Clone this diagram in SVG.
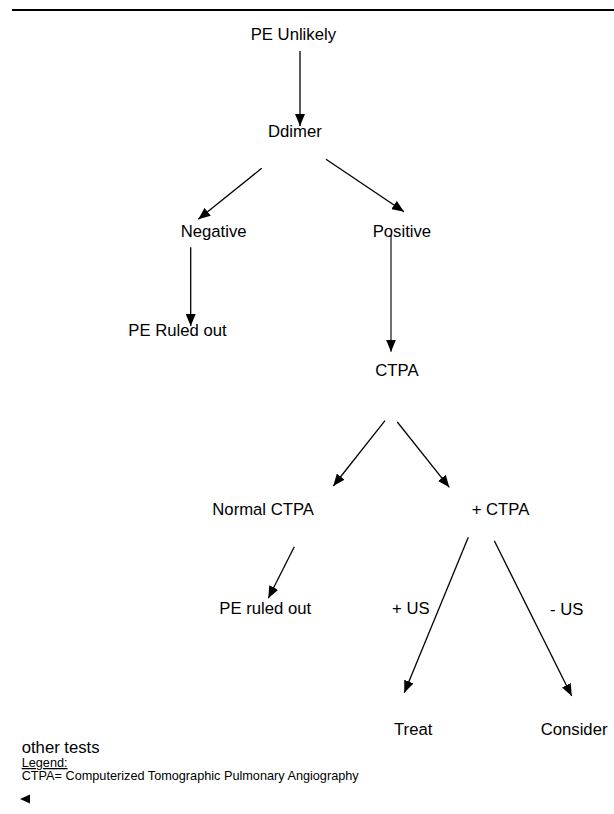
<svg xmlns="http://www.w3.org/2000/svg" width="614" height="814" viewBox="0 0 614 814">
<style>
text{font-family:"Liberation Sans",Arial,sans-serif;font-size:16.7px;fill:#000}
.small{font-size:12.7px}
.c line{stroke:#000;stroke-width:1.3;marker-end:url(#ah)}
.c line.g{stroke:#404040;stroke-width:1.5}
</style>
<defs>
<marker id="ah" viewBox="0 0 12 10" refX="12" refY="5" markerWidth="12" markerHeight="10" markerUnits="userSpaceOnUse" orient="auto">
<path d="M0,0 L12,5 L0,10 z" fill="#000"/>
</marker>
</defs>
<rect width="614" height="814" fill="#fff"/>
<line x1="12" y1="10" x2="614" y2="10" stroke="#000" stroke-width="2"/>
<g class="c" id="connectors">
<line x1="300" y1="51" x2="300" y2="126"/>
<line x1="261.7" y1="168.3" x2="198.3" y2="219.3"/>
<line x1="326" y1="159.3" x2="404" y2="211.7"/>
<line x1="190.7" y1="247.3" x2="190.7" y2="326"/>
<line class="g" x1="391" y1="235" x2="391" y2="351.7"/>
<line x1="385" y1="420.7" x2="333.3" y2="486"/>
<line x1="397.3" y1="422" x2="449.3" y2="487.3"/>
<line x1="294.3" y1="546.7" x2="268.3" y2="598.3"/>
<line x1="468.3" y1="537.3" x2="404.3" y2="692.7"/>
<line x1="494.3" y1="540.7" x2="571.7" y2="696"/>
</g>
<g id="pe-unlikely"><text x="250.7" y="40">PE Unlikely</text></g>
<g id="ddimer"><text x="268" y="137">Ddimer</text></g>
<g id="negative"><text x="180.7" y="236.5">Negative</text></g>
<g id="positive"><text x="372.7" y="236.5">Positive</text></g>
<g id="pe-ruled-out-1"><text x="128.3" y="336">PE Ruled out</text></g>
<g id="ctpa"><text x="375.3" y="376">CTPA</text></g>
<g id="normal-ctpa"><text x="212.3" y="515">Normal CTPA</text></g>
<g id="plus-ctpa"><text x="471.7" y="515">+ CTPA</text></g>
<g id="pe-ruled-out-2"><text x="219.3" y="614">PE ruled out</text></g>
<g id="plus-us"><text x="392" y="614">+ US</text></g>
<g id="minus-us"><text x="550" y="615">- US</text></g>
<g id="treat"><text x="394" y="735">Treat</text></g>
<g id="consider"><text x="540.7" y="735">Consider</text></g>
<g id="legend">
<text x="21.7" y="752.5">other tests</text>
<text class="small" x="21.7" y="767" text-decoration="underline">Legend:</text>
<text class="small" x="21.7" y="779.5">CTPA= Computerized Tomographic Pulmonary Angiography</text>
<path d="M20,799 L30,794.5 L30,803.5 z" fill="#000"/>
</g>
</svg>
